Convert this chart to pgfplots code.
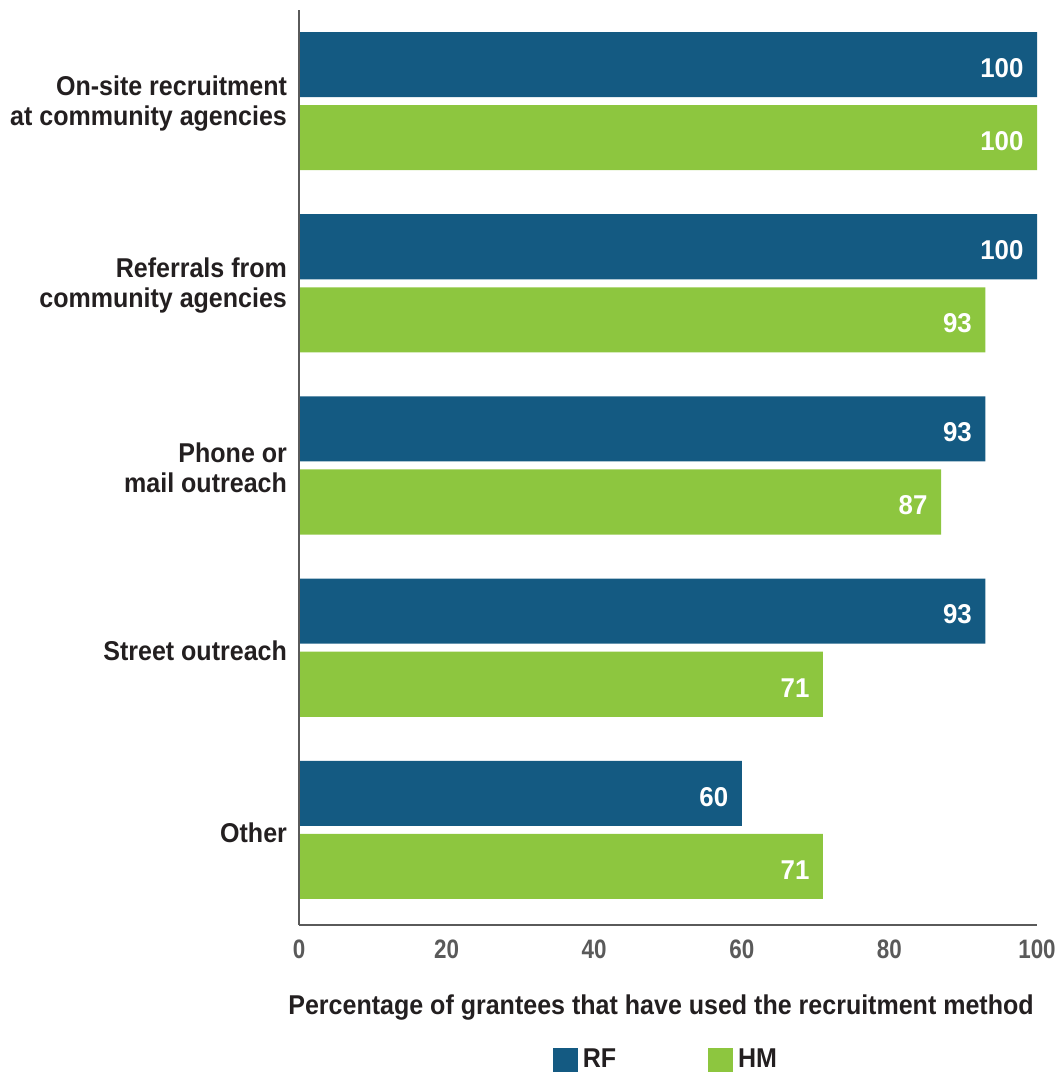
\documentclass[border=0pt]{standalone}
\usepackage{pgfplots}
\pgfplotsset{compat=1.18}
\usepackage{fontspec}
\setmainfont{Liberation Sans}[FakeStretch=0.92]
\newfontfamily\tickfont{Liberation Sans}[FakeStretch=0.84]
\newfontfamily\barfont{Liberation Sans}[FakeStretch=0.95]
\definecolor{rfblue}{HTML}{145A82}
\definecolor{hmgreen}{HTML}{8DC63F}
\definecolor{axgray}{HTML}{5A5A5A}
\definecolor{labdark}{HTML}{231F20}
\begin{document}
\begin{tikzpicture}
\useasboundingbox (-112.125pt,-56.625pt) rectangle (285.75pt,346.875pt);
\begin{axis}[
  anchor=south west, at={(0,0)},
  scale only axis, width=276.75pt, height=343.125pt,
  xbar, bar width=24.4pt,
  xmin=0, xmax=100, ymin=-0.522, ymax=4.5,
  enlargelimits=false,
  axis x line*=bottom, axis y line*=left,
  axis line style={draw=axgray, line width=1.1pt, -},
  axis on top,
  xtick={0,20,40,60,80,100},
  major tick length=0pt,
  ytick={0,1,2,3,4},
  yticklabels={{Other},{Street outreach},{Phone or\\mail outreach},{Referrals from\\community agencies},{On-site recruitment\\at community agencies}},
  yticklabel style={align=right, font=\fontsize{10.2}{11.25}\selectfont\bfseries, text=labdark, xshift=-1pt, yshift=-1pt},
  xticklabel style={font=\tickfont\fontsize{10}{12}\selectfont\bfseries, text=axgray, yshift=-2pt},
  /pgf/number format/assume math mode=true,
  xlabel={Percentage of grantees that have used the recruitment method},
  x label style={at={(axis description cs:0.5,0)}, anchor=center, yshift=-31.1pt, xshift=-2.6pt, font=\fontsize{10.2}{11.25}\selectfont\bfseries, text=labdark},
  nodes near coords,
  nodes near coords style={anchor=east, inner sep=0pt, xshift=-4.9pt, yshift=-1.3pt, text=white, font=\barfont\fontsize{10.2}{12}\selectfont\bfseries},
  legend columns=2,
  legend style={draw=none, at={(axis description cs:0.5,0)}, anchor=center, yshift=-50.6pt, xshift=-0.2pt, font=\fontsize{10.2}{11.25}\selectfont\bfseries, text=labdark, /tikz/every even column/.append style={column sep=32.3pt}},
  legend image code/.code={\path[#1, draw=none] (0pt,-4.5pt) rectangle (9.4pt,4.5pt);},
]
\addplot[fill=rfblue, draw=none, bar shift=13.7pt] coordinates {(60,0) (93,1) (93,2) (100,3) (100,4)};
\addplot[fill=hmgreen, draw=none, bar shift=-13.7pt] coordinates {(71,0) (71,1) (87,2) (93,3) (100,4)};
\legend{RF,HM}
\end{axis}
\end{tikzpicture}
\end{document}
